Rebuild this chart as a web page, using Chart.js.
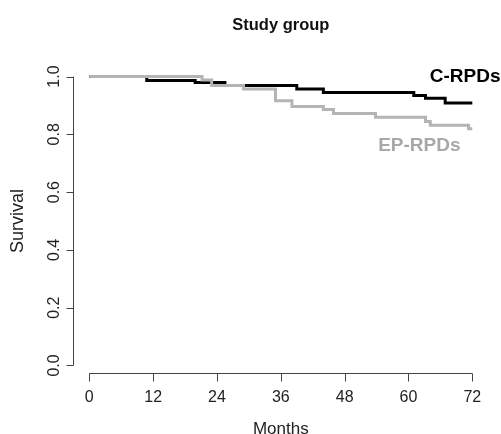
<!DOCTYPE html>
<html>
<head>
<meta charset="utf-8">
<title>Study group</title>
<style>
  body { margin: 0; background: #fff; }
  #box { width: 501px; height: 434px; }
</style>
</head>
<body>
<div id="box"><canvas id="myChart" width="501" height="434"></canvas></div>
<script src="https://cdn.jsdelivr.net/npm/chart.js@4/dist/chart.umd.min.js"></script>
<script>
  // Kaplan-Meier steps
  let monthsC = [0, 10.8, 19.9, 25.5, 39.0, 44.0, 61.0, 63.2, 66.9, 72]
  let survC = [1.0, 0.986, 0.979, 0.969, 0.957, 0.945, 0.934, 0.925, 0.908, 0.908]
  let monthsEP = [0, 21.2, 23.0, 29.0, 35.0, 38.1, 44.0, 45.9, 53.8, 63.2, 64.1, 71.3, 72]
  let survEP = [1.0, 0.988, 0.969, 0.957, 0.916, 0.896, 0.886, 0.872, 0.859, 0.844, 0.831, 0.819, 0.819]
  let xTicks = [0, 12, 24, 36, 48, 60, 72]
  let yTicks = [0, 0.2, 0.4, 0.6, 0.8, 1.0]
  let yTickLabels = ['0.0', '0.2', '0.4', '0.6', '0.8', '1.0']
  let seriesNames = ['C-RPDs', 'EP-RPDs']
  let seriesColors = ['#000000', '#b4b4b4']
  let labelColors = ['#000000', '#a8a8a8']
  // where the curve names sit, in data units (month, survival)
  let labelAnchors = [[64.0, 1.0], [54.3, 0.76]]

  function toPoints(xs, ys) {
    return xs.map(function (x, i) { return { x: x, y: ys[i] } })
  }

  // R style detached axes, drawn with the chart's own scales
  let rAxes = {
    id: 'rAxes',
    afterDraw: function (chart) {
      let ctx = chart.ctx
      let xs = chart.scales.x
      let ys = chart.scales.y
      let area = chart.chartArea
      ctx.save()
      ctx.strokeStyle = '#444'
      ctx.lineWidth = 1
      ctx.fillStyle = '#222'
      ctx.font = '16px "Liberation Sans", Arial, sans-serif'

      // x axis
      let ax = Math.round(area.bottom) + 0.5
      ctx.beginPath()
      ctx.moveTo(xs.getPixelForValue(xTicks[0]), ax)
      ctx.lineTo(xs.getPixelForValue(xTicks[xTicks.length - 1]), ax)
      xTicks.forEach(function (t) {
        let px = Math.round(xs.getPixelForValue(t)) + 0.5
        ctx.moveTo(px, ax)
        ctx.lineTo(px, ax + 8)
      })
      ctx.stroke()
      ctx.textAlign = 'center'
      ctx.textBaseline = 'middle'
      xTicks.forEach(function (t) {
        ctx.fillText(String(t), xs.getPixelForValue(t), ax + 24)
      })
      ctx.font = '17px "Liberation Sans", Arial, sans-serif'
      ctx.fillText('Months', (area.left + area.right) / 2, ax + 56)

      // y axis
      let ay = Math.round(area.left) + 0.5
      ctx.font = '16px "Liberation Sans", Arial, sans-serif'
      ctx.beginPath()
      ctx.moveTo(ay, ys.getPixelForValue(yTicks[0]))
      ctx.lineTo(ay, ys.getPixelForValue(yTicks[yTicks.length - 1]))
      yTicks.forEach(function (t) {
        let py = Math.round(ys.getPixelForValue(t)) + 0.5
        ctx.moveTo(ay, py)
        ctx.lineTo(ay - 7, py)
      })
      ctx.stroke()
      yTicks.forEach(function (t, i) {
        ctx.save()
        ctx.translate(ay - 19, ys.getPixelForValue(t))
        ctx.rotate(-Math.PI / 2)
        ctx.fillText(yTickLabels[i], 0, 0)
        ctx.restore()
      })
      ctx.save()
      ctx.font = '18px "Liberation Sans", Arial, sans-serif'
      ctx.translate(18, (area.top + area.bottom) / 2)
      ctx.rotate(-Math.PI / 2)
      ctx.fillText('Survival', 0, 0)
      ctx.restore()

      // title
      ctx.font = 'bold 16.5px "Liberation Sans", Arial, sans-serif'
      ctx.fillStyle = '#111'
      ctx.textBaseline = 'alphabetic'
      ctx.fillText('Study group', (area.left + area.right) / 2, 30)

      // curve names
      ctx.font = 'bold 19px "Liberation Sans", Arial, sans-serif'
      ctx.textAlign = 'left'
      ctx.textBaseline = 'middle'
      seriesNames.forEach(function (name, i) {
        ctx.fillStyle = labelColors[i]
        ctx.fillText(name, xs.getPixelForValue(labelAnchors[i][0]), ys.getPixelForValue(labelAnchors[i][1]))
      })
      ctx.restore()
    }
  }

  let carte = document.getElementById('myChart')
  let graph = new Chart(carte, {
    type: 'line',
    data: {
      datasets: [{
        label: seriesNames[1],
        data: toPoints(monthsEP, survEP),
        borderColor: seriesColors[1],
        borderWidth: 3,
        stepped: 'before',
        pointRadius: 0,
        fill: false
      }, {
        label: seriesNames[0],
        data: toPoints(monthsC, survC),
        borderColor: seriesColors[0],
        borderWidth: 3,
        stepped: 'before',
        pointRadius: 0,
        fill: false
      }]
    },
    options: {
      responsive: false,
      animation: false,
      layout: { padding: { left: 72.7, right: 12.1, top: 69, bottom: 61 } },
      scales: {
        x: { type: 'linear', min: -3.12, max: 75.12, display: false },
        y: { min: -0.026, max: 1.026, display: false }
      },
      plugins: {
        legend: { display: false },
        tooltip: { enabled: false }
      }
    },
    plugins: [rAxes]
  })
</script>
</body>
</html>
